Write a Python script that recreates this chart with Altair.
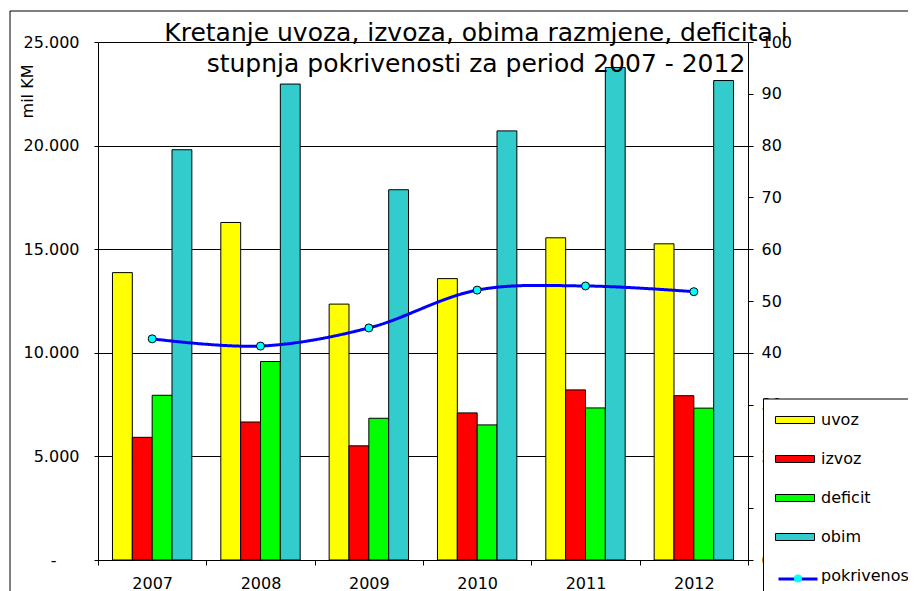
import altair as alt
import pandas as pd

godine = ['2007', '2008', '2009', '2010', '2011', '2012']
uvoz = [13870, 16290, 12350, 13580, 15550, 15260]
izvoz = [5920, 6660, 5510, 7100, 8210, 7930]
deficit = [7950, 9580, 6840, 6520, 7340, 7330]
obim = [19800, 22970, 17870, 20710, 23770, 23140]
pokrivenost = [42.7, 41.3, 44.8, 52.1, 52.9, 51.8]

serije = ['uvoz', 'izvoz', 'deficit', 'obim']
legenda = serije + ['pokrivenost']
boje = ['#FFFF00', '#FF0000', '#00FF00', '#33CCCC', 'transparent']
obrub = ['black', 'black', 'black', 'black', 'transparent']
y_oznake = [0, 5000, 10000, 15000, 20000, 25000]
y2_oznake = [0, 10, 20, 30, 40, 50, 60, 70, 80, 90, 100]
naslov = ['Kretanje uvoza, izvoza, obima razmjene, deficita i',
          'stupnja pokrivenosti za period 2007 - 2012']

vrijednosti = {'uvoz': uvoz, 'izvoz': izvoz, 'deficit': deficit, 'obim': obim}
redovi = []
for s in serije:
    for g, v in zip(godine, vrijednosti[s]):
        redovi.append({'godina': g, 'serija': s, 'vrijednost': v})
df_bars = pd.DataFrame(redovi)
df_line = pd.DataFrame({'godina': godine, 'pokrivenost': pokrivenost,
                        'naziv': ['pokrivenost'] * 6, 'oznaka': ['krug'] * 6})

FONT = 'DejaVu Sans'

legA = dict(title=None, orient='none', legendX=665, legendY=356.5, direction='vertical',
            symbolType='M-2.17,-0.39H2.17V0.39H-2.17Z', symbolSize=324,
            symbolOffset=10.5, symbolStrokeWidth=1,
            labelFont=FONT, labelFontSize=16, labelColor='black', labelOffset=16.5,
            rowPadding=21, padding=12, fillColor='white', strokeColor='black',
            symbolOpacity=1, zindex=1)

frame = alt.Chart(alt.Data(values=[{'a': 1}])).mark_rect(
    fillOpacity=0, stroke='black', strokeWidth=1
).encode(x=alt.value(-88), x2=alt.value(1000), y=alt.value(-31), y2=alt.value(1000))

bars = alt.Chart(df_bars).mark_bar(strokeWidth=1, opacity=1).encode(
    x=alt.X('godina:N', sort=godine,
            scale=alt.Scale(paddingInner=0, paddingOuter=0),
            axis=alt.Axis(title=None, labelAngle=0, tickBand='extent', tickSize=5,
                          labelPadding=10, domainColor='black', tickColor='black',
                          labelFontSize=16, labelColor='black', labelFont=FONT,
                          grid=False)),
    xOffset=alt.XOffset('serija:N', sort=serije,
                        scale=alt.Scale(domain=serije, paddingInner=0, paddingOuter=0.73)),
    y=alt.Y('vrijednost:Q', scale=alt.Scale(domain=[0, 25000], nice=False),
            axis=alt.Axis(title='mil KM', values=y_oznake,
                          labelExpr="datum.value == 0 ? '-' : replace(format(datum.value, ','), ',', '.')",
                          labelPadding=alt.condition('datum.value == 0', alt.value(38), alt.value(15)),
                          grid=True, gridColor='black', gridWidth=1,
                          domainColor='black', tickColor='black', tickSize=4,
                          labelFontSize=16, labelColor='black',
                          labelFont=FONT, titleFont=FONT, titleFontSize=16,
                          titleFontWeight='normal', titleColor='black',
                          titleAngle=270, titleX=-66, titleY=49,
                          titleAlign='center', titleBaseline='alphabetic')),
    color=alt.Color('serija:N', scale=alt.Scale(domain=legenda, range=boje),
                    legend=alt.Legend(**legA)),
    stroke=alt.Stroke('serija:N', scale=alt.Scale(domain=legenda, range=obrub),
                      legend=alt.Legend(**legA)),
)

line = alt.Chart(df_line).mark_line(color='#0000FF', strokeWidth=3,
                                    interpolate='catmull-rom').encode(
    x=alt.X('godina:N', sort=godine),
    y=alt.Y('pokrivenost:Q', scale=alt.Scale(domain=[0, 100], nice=False),
            axis=alt.Axis(orient='right', title=None, values=y2_oznake, grid=False,
                          domainColor='black', tickColor='black', tickSize=5,
                          labelPadding=8, labelFontSize=16, labelColor='black',
                          labelFont=FONT)),
    strokeDash=alt.StrokeDash('naziv:N',
                              scale=alt.Scale(domain=['pokrivenost'], range=[[1, 0]]),
                              legend=alt.Legend(title=None, orient='none', legendX=679,
                                                legendY=516, labelExpr="''",
                                                symbolType='M-1,0H1', symbolSize=1521,
                                                symbolStrokeWidth=3,
                                                symbolStrokeColor='#0000FF',
                                                padding=0, zindex=2)),
)

markers = alt.Chart(df_line).mark_point(filled=True, fill='#00FFFF', stroke='black',
                                        strokeWidth=1, size=64, opacity=1).encode(
    x=alt.X('godina:N', sort=godine),
    y=alt.Y('pokrivenost:Q'),
    shape=alt.Shape('oznaka:N', scale=alt.Scale(domain=['krug'], range=['circle']),
                    legend=alt.Legend(title=None, orient='none', legendX=695,
                                      legendY=531.5, labelExpr="''", symbolSize=64,
                                      symbolFillColor='#00FFFF',
                                      symbolStrokeColor='black', symbolStrokeWidth=1,
                                      symbolOpacity=1, padding=0, zindex=3)),
)

chart = alt.layer(frame, bars, alt.layer(line, markers)).resolve_scale(
    y='independent'
).properties(
    width=650, height=518,
    autosize=alt.AutoSizeParams(type='none'),
    padding={'left': 90, 'top': 34, 'right': 160, 'bottom': 31},
    title=alt.TitleParams(text=naslov, fontSize=25, font=FONT, fontWeight='normal',
                          color='black', anchor='middle', dx=53, dy=66, offset=0,
                          lineHeight=31),
).configure_view(stroke='transparent').configure(background='white')

chart.save('out.html', embed_options={'renderer': 'svg', 'actions': False})
